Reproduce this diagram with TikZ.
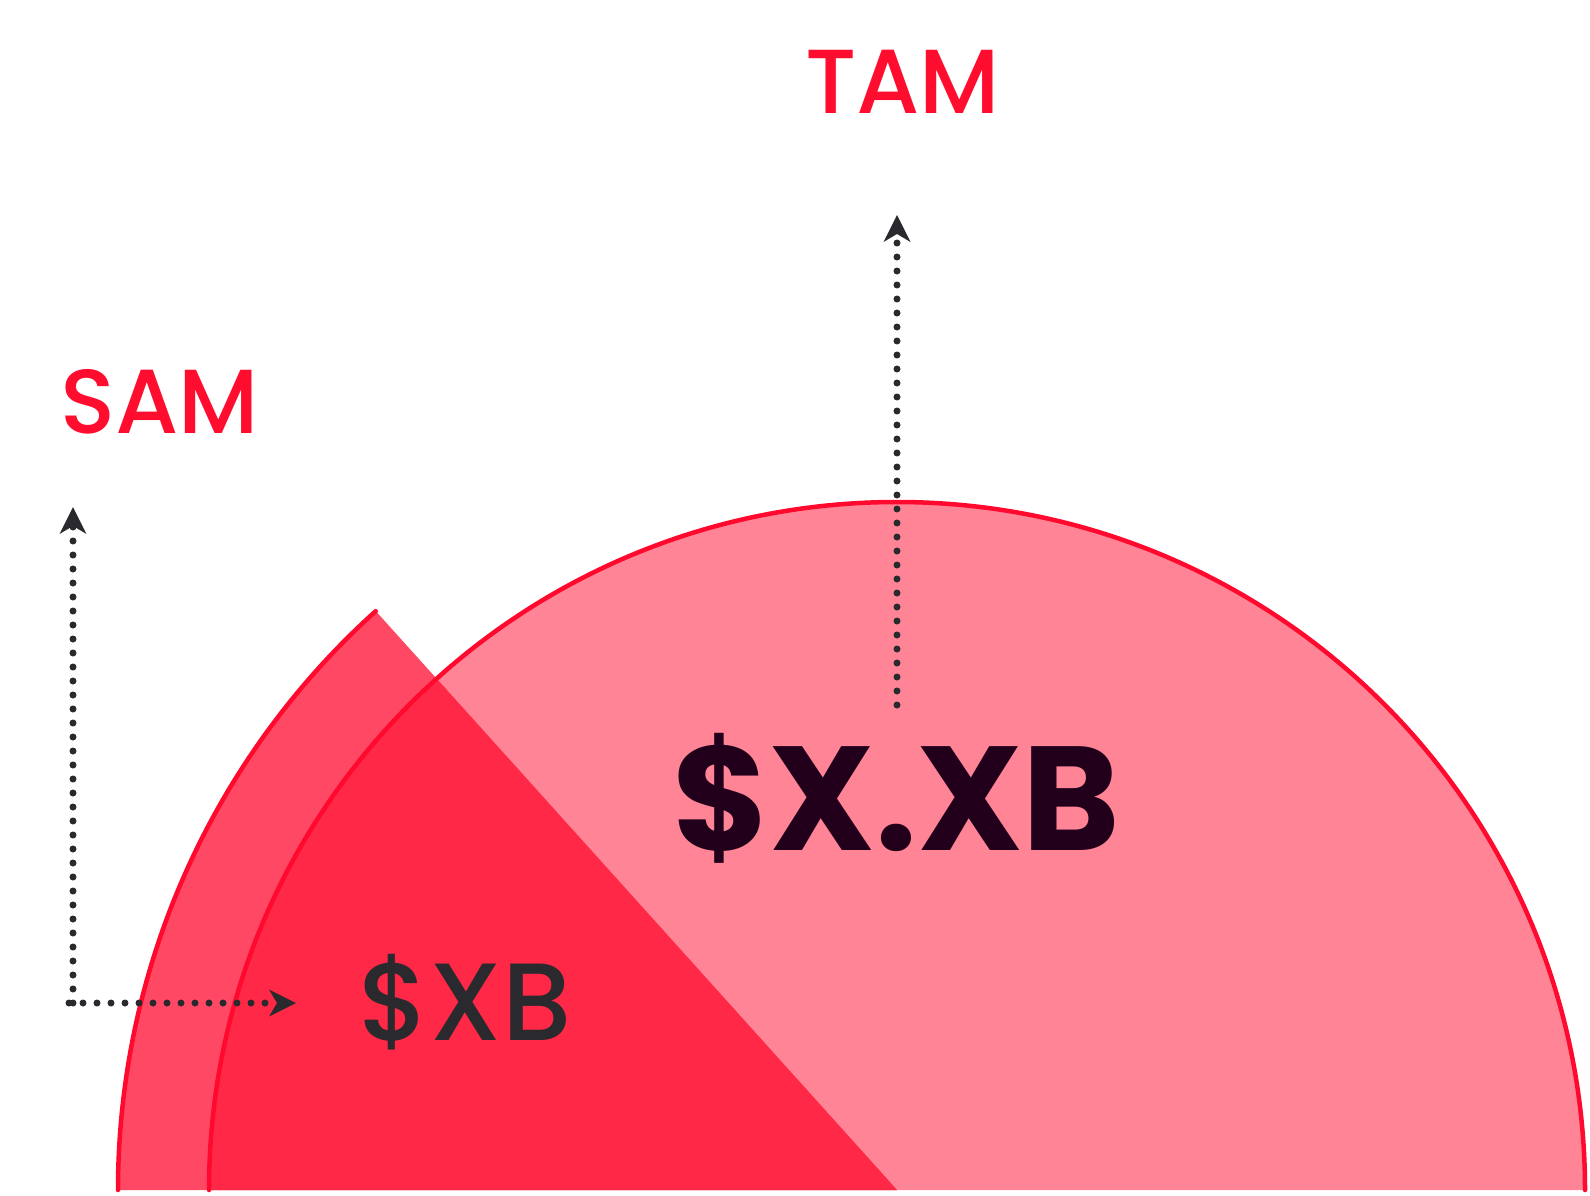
\documentclass[tikz,border=0pt]{standalone}
\usepackage{fontspec}
\setmainfont{Poppins}[BoldFont={* Bold}]
\newfontfamily\popmed{Poppins Medium}
\usetikzlibrary{arrows.meta}
\definecolor{tamfill}{HTML}{FF8596}
\definecolor{samout}{HTML}{FF4863}
\definecolor{samin}{HTML}{FF2947}
\definecolor{edge}{HTML}{FF0A2E}
\definecolor{txtred}{HTML}{FF0D2E}
\definecolor{darkbig}{HTML}{22001B}
\definecolor{darkgray}{HTML}{2A2A2E}
\tikzset{
  dotarrow/.style={draw=darkgray, line width=7pt, line cap=round, dash pattern=on 0pt off 14pt,
    -{Stealth[length=27pt,width=27pt,inset=8pt,line width=0pt]}},
  redlabel/.style={text=txtred, inner sep=0pt, anchor=base west, font=\popmed\fontsize{91}{91}\selectfont},
  arcline/.style={draw=edge, line width=4.5pt, line cap=round}
}
\begin{document}
\begin{tikzpicture}[x=1pt,y=-1pt]
\useasboundingbox (0,0) rectangle (1590,1196);
\coordinate (c) at (897,1190);
% TAM half disk
\fill[tamfill] (c) ++(0:688) arc[start angle=0,end angle=-180,radius=688] -- cycle;
% SAM sector outer part
\fill[samout] (c) -- ++(-132:779) arc[start angle=-132,end angle=-180,radius=779] -- cycle;
% overlap
\fill[samin] (c) -- ++(-132:688) arc[start angle=-132,end angle=-180,radius=688] -- cycle;
% arcs
\draw[arcline] (c) ++(0:688) arc[start angle=0,end angle=-180,radius=688];
\draw[arcline] (c) ++(-132:779) arc[start angle=-132,end angle=-180,radius=779];
% labels
\node[redlabel] (tam) at (805,114) {TAM};
\node[redlabel] (sam) at (60,433) {SAM};
\node[text=darkbig, inner sep=0pt, anchor=base west, font=\bfseries\fontsize{148}{148}\selectfont] (big) at (672,850) {\$X.XB};
\node[text=darkgray, inner sep=0pt, anchor=base west, font=\popmed\fontsize{110}{110}\selectfont] (small) at (358,1040) {\$XB};
% arrows
\coordinate (tamfrom) at (897,705);
\coordinate (tamto) at (897,215);
\coordinate (corner) at (73,1003);
\coordinate (samto) at (73,507);
\coordinate (hstart) at (69,1003);
\coordinate (hto) at (296,1003);
\draw[dotarrow] (tamfrom) -- (tamto);
\draw[dotarrow] (corner) -- (samto);
\draw[dotarrow] (hstart) -- (hto);
\end{tikzpicture}
\end{document}
